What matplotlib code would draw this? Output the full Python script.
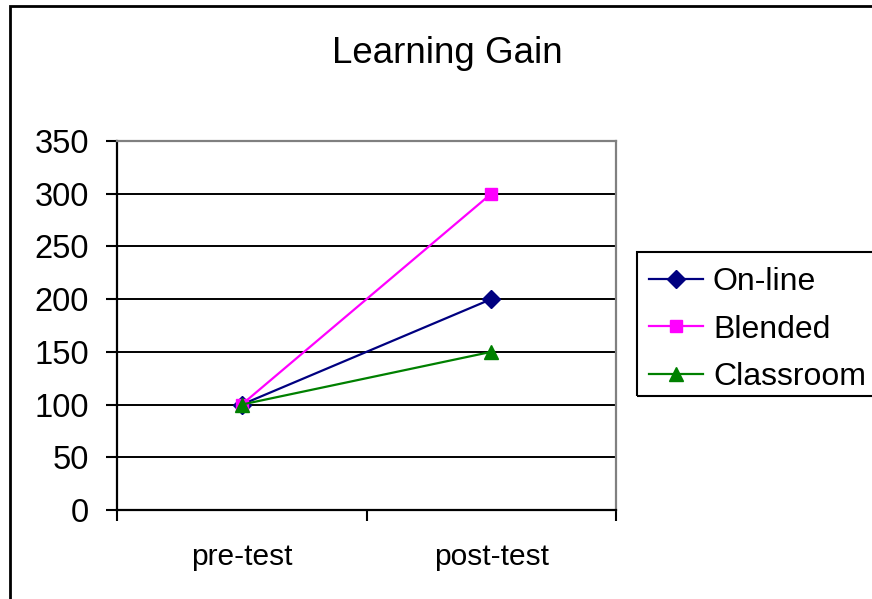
import matplotlib
matplotlib.use("Agg")
import matplotlib.pyplot as plt
from matplotlib.patches import Rectangle

categories = ["pre-test", "post-test"]
series_names = ["On-line", "Blended", "Classroom"]
online = [100, 200]
blended = [100, 300]
classroom = [100, 150]
y_ticks = [0, 50, 100, 150, 200, 250, 300, 350]

W, H = 872, 599
plt.rcParams['font.family'] = ['Liberation Sans', 'DejaVu Sans']
fig = plt.figure(figsize=(W / 100, H / 100), dpi=100)
fig.patch.set_facecolor('white')

# outer chart border (top and left visible)
fig.patches.append(Rectangle((10 / W, -0.2), 1.5, (H - 6) / H + 0.2,
                             transform=fig.transFigure, fill=False,
                             edgecolor='black', linewidth=2.0, zorder=0))

ax = fig.add_axes([117 / W, 89 / H, (616 - 117) / W, (510 - 141) / H])
ax.set_xlim(0, len(categories))
ax.set_ylim(0, 350)

xs = [i + 0.5 for i in range(len(categories))]
styles = [
    (online, '#000080', 'D', 9),
    (blended, '#FF00FF', 's', 9),
    (classroom, '#008000', '^', 10),
]
handles = []
for (vals, col, mk, ms), name in zip(styles, series_names):
    ln, = ax.plot(xs, vals, color=col, marker=mk, markersize=ms,
                  linewidth=1.6, markeredgecolor=col, markerfacecolor=col,
                  label=name, zorder=3, clip_on=False)
    handles.append(ln)

ax.set_yticks(y_ticks)
ax.set_yticklabels([str(v) for v in y_ticks], fontsize=23.5)
for v in y_ticks[1:-1]:
    ax.axhline(v, color='black', linewidth=1.4, zorder=1)

ax.set_xticks(range(len(categories) + 1))
ax.set_xticklabels([])
ax.set_xticks(xs, minor=True)
ax.set_xticklabels(categories, minor=True, fontsize=21.5)
ax.tick_params(axis='x', which='minor', length=0, pad=24)
ax.tick_params(axis='x', which='major', direction='out', length=8, width=1.5, color='black')
ax.tick_params(axis='y', direction='out', length=8, width=1.5, color='black', pad=12)

for s in ['top', 'right']:
    ax.spines[s].set_color('#808080')
    ax.spines[s].set_linewidth(1.6)
for s in ['left', 'bottom']:
    ax.spines[s].set_color('black')
    ax.spines[s].set_linewidth(1.6)

fig.text(447 / W, (H - 63) / H, "Learning Gain", fontsize=26.5,
         ha='center', va='baseline')

leg = fig.legend(handles=handles, labels=series_names, loc='upper left',
                 bbox_to_anchor=(649 / W, (H - 267) / H), fontsize=23,
                 frameon=False, borderpad=0.0,
                 handlelength=1.7, handletextpad=0.3, labelspacing=0.55,
                 borderaxespad=0)

# legend frame extending past the right edge, as in the reference
fig.patches.append(Rectangle((637 / W, (H - 396) / H), 0.5, (396 - 252) / H,
                             transform=fig.transFigure, fill=False,
                             edgecolor='black', linewidth=1.5, zorder=1))

fig.savefig("out.png", dpi=100, facecolor='white')
